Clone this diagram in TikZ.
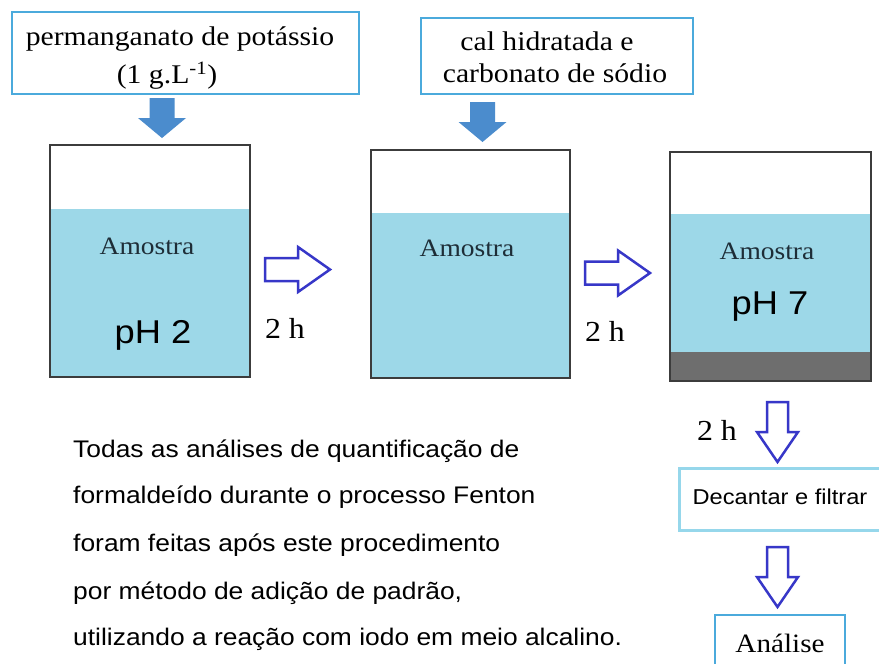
\documentclass[tikz,border=0pt]{standalone}
\usepackage{fontspec}
\setmainfont{Liberation Serif}[FakeStretch=1.1]
\newfontfamily\arialf{Liberation Sans}[FakeStretch=1.1]
\definecolor{liquid}{RGB}{157,216,232}
\definecolor{beakerline}{RGB}{60,60,60}
\definecolor{boxblue}{RGB}{75,170,220}
\definecolor{boxlight}{RGB}{150,215,235}
\definecolor{arrowblue}{RGB}{55,55,200}
\definecolor{fillarrow}{RGB}{75,140,205}
\definecolor{sediment}{RGB}{110,110,110}
\definecolor{labeltext}{RGB}{30,45,55}
\tikzset{
  topbox/.style={draw=boxblue, line width=2pt, fill=white, inner sep=0pt},
  lightbox/.style={draw=boxlight, line width=3pt, fill=white, inner sep=0pt},
  beaker/.style={draw=beakerline, line width=1.5pt},
  hollow/.style={draw=arrowblue, line width=2.5pt, fill=white, line join=miter},
  solidarrow/.style={fill=fillarrow, draw=none},
  serifbig/.style={font=\fontsize{27}{30}\selectfont, inner sep=0pt},
  amostra/.style={font=\fontsize{25}{28}\selectfont, text=labeltext, inner sep=0pt},
  phlabel/.style={font=\arialf\fontsize{33}{36}\selectfont, inner sep=0pt},
  hours/.style={font=\fontsize{29}{30}\selectfont, inner sep=0pt},
  para/.style={font=\arialf\fontsize{24}{26}\selectfont, anchor=base west, inner sep=0pt},
  rarr/.pic={\draw[hollow] (0,-11.5) -- (33,-11.5) -- (33,-22.5) -- (65,0) -- (33,22.5) -- (33,11.5) -- (0,11.5) -- cycle;},
  darr/.pic={\draw[hollow] (-10.5,0) -- (-10.5,30) -- (-20.5,30) -- (0,60) -- (20.5,30) -- (10.5,30) -- (10.5,0) -- cycle;},
  farr/.pic={\fill[solidarrow] (-12.5,0) -- (-12.5,20) -- (-24,20) -- (0,40) -- (24,20) -- (12.5,20) -- (12.5,0) -- cycle;},
}
\begin{document}
\begin{tikzpicture}[x=1pt,y=-1pt]
\useasboundingbox (0,0) rectangle (879,664);
\fill[white] (0,0) rectangle (879,664);

% top boxes
\node[topbox, minimum width=347pt, minimum height=82pt] (kmno) at (185.5,53) {};
\node[serifbig] (kmnoA) at (180,39) {permanganato de potássio};
\node[serifbig] (kmnoB) at (167,76) {(1 g.L\textsuperscript{-1})};

\node[topbox, minimum width=272pt, minimum height=76pt] (cal) at (557,56) {};
\node[serifbig] (calA) at (547,41) {cal hidratada e};
\node[serifbig] (calB) at (555,73) {carbonato de sódio};

% solid arrows
\pic at (162,98) {farr};
\pic at (482.5,102) {farr};

% beaker 1
\fill[liquid] (50,209) rectangle (250,377);
\draw[beaker] (50,145) -- (50,377) -- (250,377) -- (250,145) -- cycle;
\node[amostra] (am1) at (147,246) {Amostra};
\node[phlabel] (ph2) at (153,335) {pH 2};

% beaker 2
\fill[liquid] (371,213) rectangle (570,378);
\draw[beaker] (371,150) -- (371,378) -- (570,378) -- (570,150) -- cycle;
\node[amostra] (am2) at (467,248) {Amostra};

% beaker 3
\fill[liquid] (670,214) rectangle (871,352);
\fill[sediment] (670,352) rectangle (871,381);
\draw[beaker] (670,152) -- (670,381) -- (871,381) -- (871,152) -- cycle;
\node[amostra] (am3) at (767,251) {Amostra};
\node[phlabel] (ph7) at (770,307) {pH 7};

% right arrows
\pic at (265,269.5) {rarr};
\node[hours] (h1) at (285,328) {2 h};
\pic at (585,273) {rarr};
\node[hours] (h2) at (605,331) {2 h};

% down arrows
\pic at (777.5,402) {darr};
\node[hours] (h3) at (717,430) {2 h};

\node[lightbox, minimum width=210pt, minimum height=62pt] (dec) at (784,499) {};
\node[font=\arialf\fontsize{21.5}{24}\selectfont, inner sep=0pt] (decT) at (780,497) {Decantar e filtrar};

\pic at (777.5,547) {darr};

\node[draw=boxblue, line width=2pt, fill=white, minimum width=130pt, minimum height=70pt, inner sep=0pt] (ana) at (780,650) {};
\node[font=\fontsize{26.5}{28}\selectfont, inner sep=0pt] (anaT) at (780,643) {Análise};

% paragraph
\node[para] (p1) at (73,457) {Todas as análises de quantificação de};
\node[para] (p2) at (73,503) {formaldeído durante o processo Fenton};
\node[para] (p3) at (73,551) {foram feitas após este procedimento};
\node[para] (p4) at (73,599) {por método de adição de padrão,};
\node[para] (p5) at (73,645) {utilizando a reação com iodo em meio alcalino.};
\end{tikzpicture}
\end{document}
